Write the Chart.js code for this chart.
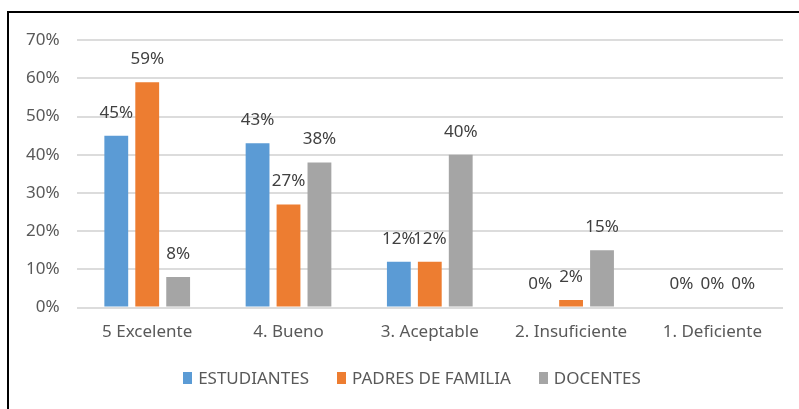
<!DOCTYPE html>
<html lang="es">
<head>
<meta charset="utf-8">
<title>Valoración por grupo</title>
<script src="https://cdn.jsdelivr.net/npm/chart.js@4/dist/chart.umd.min.js"></script>
<style>
    html, body { margin: 0; padding: 0; background: #fff; overflow: hidden; }
    #frame {
        position: absolute;
        left: 7px;
        top: 11px;
        width: 806px;
        height: 400px;
        border: 2px solid #000;
    }
    #frame canvas { position: absolute; left: 0; top: 0; }
    #legend {
        position: absolute;
        left: 0;
        width: 806px;
        top: 353px;
        display: flex;
        justify-content: center;
        font: 17px 'Noto Sans', 'Open Sans', sans-serif;
        color: #595959;
    }
    .legend-item { display: flex; align-items: center; margin: 0 14px; }
    .legend-box { width: 9px; height: 12px; margin-right: 6px; }
</style>
</head>
<body>
<div id="frame">
    <canvas id="ratingChart" width="806" height="400"></canvas>
    <div id="legend"></div>
</div>
<script>
// Data
const CATEGORIES = ["5 Excelente", "4. Bueno", "3. Aceptable", "2. Insuficiente", "1. Deficiente"];
const ESTUDIANTES = [45, 43, 12, 0, 0];
const PADRES = [59, 27, 12, 2, 0];
const DOCENTES = [8, 38, 40, 15, 0];
const Y_TICKS = [0, 10, 20, 30, 40, 50, 60, 70];

const FONT = "'Noto Sans', 'Open Sans', sans-serif";
const FONT_SIZE = 17;

// Percent labels above each bar
const valueLabels = {
    id: "valueLabels",
    afterDatasetsDraw(chart) {
        const ctx = chart.ctx;
        ctx.save();
        ctx.font = `${FONT_SIZE}px ${FONT}`;
        ctx.fillStyle = "#404040";
        ctx.textAlign = "center";
        ctx.textBaseline = "middle";
        chart.data.datasets.forEach((ds, i) => {
            chart.getDatasetMeta(i).data.forEach((bar, j) => {
                ctx.fillText(ds.data[j] + "%", bar.x, bar.y - 23);
            });
        });
        ctx.restore();
    }
};

const ctx = document.getElementById("ratingChart").getContext("2d");
const chart = new Chart(ctx, {
    type: "bar",
    data: {
        labels: CATEGORIES,
        datasets: [
            { label: "ESTUDIANTES", data: ESTUDIANTES, backgroundColor: "#5B9BD5" },
            { label: "PADRES DE FAMILIA", data: PADRES, backgroundColor: "#ED7D31" },
            { label: "DOCENTES", data: DOCENTES, backgroundColor: "#A5A5A5" }
        ]
    },
    options: {
        responsive: false,
        animation: false,
        categoryPercentage: 0.657,
        barPercentage: 0.77,
        layout: { padding: { left: 0, right: 32, top: 26, bottom: 65 } },
        plugins: {
            tooltip: { enabled: false },
            legend: { display: false }
        },
        scales: {
            x: {
                grid: { display: false },
                border: { display: false },
                ticks: {
                    color: "#595959",
                    font: { family: FONT, size: FONT_SIZE },
                    padding: 6,
                    maxRotation: 0
                }
            },
            y: {
                min: 0,
                max: 70,
                afterBuildTicks(axis) {
                    axis.ticks = Y_TICKS.map(v => ({ value: v }));
                },
                grid: { color: "#dcdcdc", lineWidth: 2, drawTicks: false },
                border: { display: false },
                ticks: {
                    color: "#595959",
                    font: { family: FONT, size: FONT_SIZE },
                    padding: 17,
                    callback: v => v + "%"
                }
            }
        }
    },
    plugins: [valueLabels]
});

// Legend row under the chart, built from the datasets
const legendEl = document.getElementById("legend");
chart.data.datasets.forEach(ds => {
    const item = document.createElement("div");
    item.className = "legend-item";
    item.innerHTML = `<span class="legend-box" style="background:${ds.backgroundColor}"></span>${ds.label}`;
    legendEl.appendChild(item);
});
</script>
</body>
</html>
